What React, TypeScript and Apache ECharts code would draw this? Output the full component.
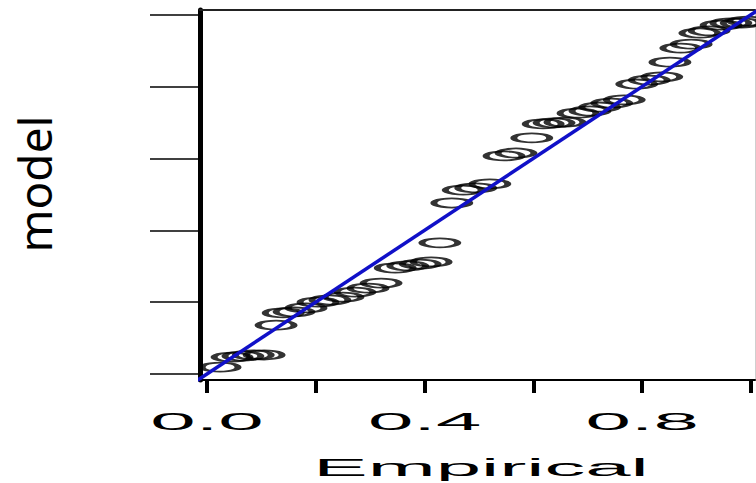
import React, { useEffect, useRef } from "react";
import * as echarts from "echarts";

// Empirical (x) and model (y) probabilities
const EMPIRICAL = [
  0.024, 0.046, 0.066, 0.085, 0.105, 0.127, 0.14, 0.16, 0.182, 0.204,
  0.226, 0.25, 0.272, 0.296, 0.32, 0.346, 0.369, 0.392, 0.412, 0.428,
  0.45, 0.471, 0.494, 0.52, 0.546, 0.568, 0.597, 0.618, 0.638, 0.658,
  0.682, 0.704, 0.722, 0.744, 0.767, 0.79, 0.813, 0.836, 0.851, 0.871,
  0.89, 0.906, 0.923, 0.945, 0.963, 0.982, 0.994,
];
const MODEL = [
  0.019, 0.047, 0.05, 0.053, 0.053, 0.136, 0.17, 0.173, 0.184, 0.2,
  0.206, 0.214, 0.228, 0.239, 0.253, 0.295, 0.301, 0.306, 0.312, 0.365,
  0.476, 0.512, 0.518, 0.529, 0.607, 0.615, 0.657, 0.696, 0.699, 0.701,
  0.726, 0.732, 0.743, 0.754, 0.763, 0.807, 0.818, 0.827, 0.868, 0.907,
  0.918, 0.949, 0.955, 0.971, 0.977, 0.977, 0.982,
];
const REF_LINE = [-0.1, 1.1];
const X_TICKS = [0, 0.2, 0.4, 0.6, 0.8, 1.0];
const X_LABEL_VALUES = [0, 0.4, 0.8];
const X_LABELS = ["0.0", "0.4", "0.8"];
const Y_TICKS = [0, 0.2, 0.4, 0.6, 0.8, 1.0];
const X_NAME = "Empirical";
const Y_NAME = "model";
const X_RANGE = [-0.0129, 1.0074];
const Y_RANGE = [-0.0167, 1.0131];

export default function App() {
  const ref = useRef<HTMLDivElement>(null);
  useEffect(() => {
    document.body.style.margin = "0";
    const chart = echarts.init(ref.current!, null, { renderer: "svg" });
    const hidden = { show: false };
    chart.setOption({
      animation: false,
      backgroundColor: "#fff",
      grid: { left: 200, right: 1, top: 10, bottom: 103 },
      xAxis: [
        {
          type: "value",
          min: X_RANGE[0],
          max: X_RANGE[1],
          position: "bottom",
          axisLine: { show: true, onZero: false, lineStyle: { color: "#000", width: 2 } },
          axisTick: { show: true, customValues: X_TICKS, length: 13, lineStyle: { color: "#000", width: 4 } },
          axisLabel: hidden,
          splitLine: hidden,
        },
        {
          type: "value",
          min: X_RANGE[0],
          max: X_RANGE[1],
          position: "top",
          axisLine: { show: true, onZero: false, lineStyle: { color: "#222", width: 2 } },
          axisTick: hidden,
          axisLabel: hidden,
          splitLine: hidden,
        },
      ],
      yAxis: [
        {
          type: "value",
          min: Y_RANGE[0],
          max: Y_RANGE[1],
          position: "left",
          axisLine: { show: true, onZero: false, lineStyle: { color: "#000", width: 5 } },
          axisTick: { show: true, customValues: Y_TICKS, length: 50, lineStyle: { color: "#000", width: 1.5 } },
          axisLabel: hidden,
          splitLine: hidden,
        },
        {
          type: "value",
          min: Y_RANGE[0],
          max: Y_RANGE[1],
          position: "right",
          axisLine: { show: true, onZero: false, lineStyle: { color: "#cfcfcf", width: 1 } },
          axisTick: hidden,
          axisLabel: hidden,
          splitLine: hidden,
        },
      ],
      series: [
        {
          type: "scatter",
          data: EMPIRICAL.map((x, i) => [x, MODEL[i]]),
          symbol: "circle",
          symbolSize: [36, 9],
          itemStyle: { color: "rgba(0,0,0,0)", borderColor: "#000", borderWidth: 3.5 },
          z: 2,
        },
        {
          type: "line",
          data: REF_LINE.map((v) => [v, v]),
          symbol: "none",
          lineStyle: { color: "#1010c8", width: 3.5 },
          clip: true,
          z: 3,
        },
      ],
    });

    const px = (v: number) => chart.convertToPixel({ xAxisIndex: 0 }, v) as number;
    const labelY = 421.6;
    const graphics: any[] = X_LABEL_VALUES.map((v, i) => ({
      type: "text",
      x: px(v),
      y: labelY,
      scaleX: 3.4,
      style: {
        text: X_LABELS[i],
        font: '24px "Liberation Sans", Arial, sans-serif',
        fill: "#000",
        align: "center",
        verticalAlign: "middle",
      },
    }));
    graphics.push({
      type: "text",
      x: px(0.5) + 2,
      y: 468,
      scaleX: 3.4,
      style: {
        text: X_NAME,
        font: '24px "Liberation Sans", Arial, sans-serif',
        fill: "#000",
        align: "center",
        verticalAlign: "middle",
      },
    });
    graphics.push({
      type: "text",
      x: 34,
      y: 184,
      rotation: Math.PI / 2,
      style: {
        text: Y_NAME,
        font: '46px "Noto Sans", sans-serif',
        fill: "#000",
        align: "center",
        verticalAlign: "middle",
      },
    });
    chart.setOption({ graphic: graphics });
    return () => chart.dispose();
  }, []);
  return (
    <div
      ref={ref}
      style={{ position: "fixed", left: 0, top: 0, width: 756, height: 483 }}
    />
  );
}
